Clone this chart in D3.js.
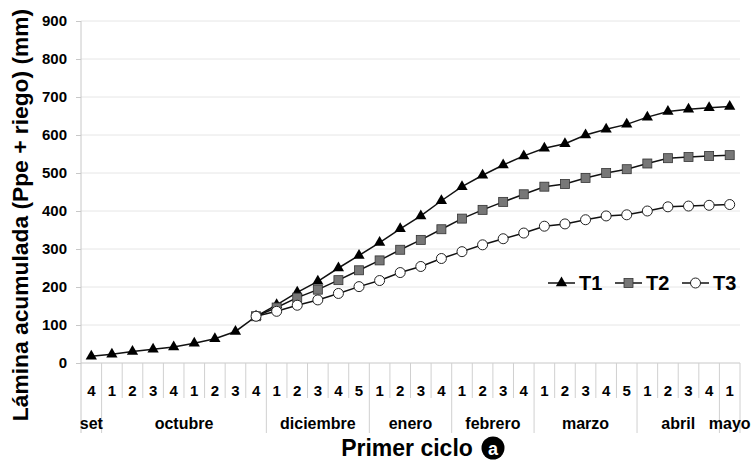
<!DOCTYPE html>
<html>
<head>
<meta charset="utf-8">
<script src="https://cdn.jsdelivr.net/npm/d3@7"></script>
<style>
  html, body { margin: 0; padding: 0; background: #fff; }
  svg text { font-family: "Liberation Sans", Arial, sans-serif; font-weight: bold; fill: #000; }
</style>
</head>
<body>
<svg id="chart" width="754" height="465"></svg>
<script>
const weekLabels = ["4","1","2","3","4","1","2","3","4","1","2","3","4","5","1","2","3","4","1","2","3","4","1","2","3","4","5","1","2","3","4","1"];
const monthNames = ["set","octubre","diciembre","enero","febrero","marzo","abril","mayo"];
const monthSpans = [1, 8, 5, 4, 4, 5, 4, 1];
const yTicks = [0, 100, 200, 300, 400, 500, 600, 700, 800, 900];
const T1 = [18, 23, 30, 36, 42, 52, 64, 83, 123, 153, 186, 215, 250, 283, 317, 353, 387, 427, 464, 494, 521, 545, 565, 577, 600, 615, 628, 647, 662, 668, 672, 675];
const T2 = [null, null, null, null, null, null, null, null, 123, 146, 172, 193, 218, 244, 270, 298, 324, 352, 380, 403, 424, 444, 464, 471, 487, 500, 510, 525, 539, 542, 545, 547];
const T3 = [null, null, null, null, null, null, null, null, 123, 136, 152, 166, 183, 201, 217, 238, 254, 275, 293, 311, 327, 342, 360, 366, 377, 387, 390, 400, 411, 413, 415, 417];
const seriesNames = ["T1", "T2", "T3"];

(function () {
const svg = d3.select("#chart");
const pL = 81, pR = 740, pT = 21, pB = 363;

const x = d3.scaleBand().domain(d3.range(weekLabels.length)).range([pL, pR]).padding(0);
const bw = x.bandwidth();
const cx = i => x(i) + bw / 2;
const y = d3.scaleLinear().domain([0, 900]).range([pB, pT]);

// gridlines
svg.append("g").selectAll("line").data(yTicks.filter(d => d > 0)).join("line")
  .attr("x1", pL).attr("x2", pR)
  .attr("y1", d => y(d)).attr("y2", d => y(d))
  .attr("stroke", "#e6e6e6").attr("stroke-width", 1);

// y axis
const yAxis = d3.axisLeft(y).tickValues(yTicks).tickSize(5).tickPadding(9);
const gy = svg.append("g").attr("transform", `translate(${pL},0)`).call(yAxis);
gy.select(".domain").remove();
gy.selectAll(".tick line").attr("stroke", "#c8c8c8");
gy.selectAll(".tick text").attr("font-size", 15).style("font-family", "'Liberation Sans', Arial, sans-serif").style("font-weight", "bold").attr("fill", "#000");
svg.append("line").attr("x1", pL).attr("x2", pL).attr("y1", pT).attr("y2", 433).attr("stroke", "#c8c8c8");

// x axis baseline
svg.append("line").attr("x1", pL).attr("x2", pR).attr("y1", pB).attr("y2", pB).attr("stroke", "#c8c8c8");

// week separators
const boundaries = d3.range(1, weekLabels.length + 1);
const monthBounds = Array.from(d3.cumsum(monthSpans));
svg.append("g").selectAll("line").data(boundaries).join("line")
  .attr("x1", d => pL + d * bw).attr("x2", d => pL + d * bw)
  .attr("y1", pB).attr("y2", d => monthBounds.includes(d) ? 433 : 398)
  .attr("stroke", "#d0d0d0");

// week labels
svg.append("g").selectAll("text").data(weekLabels).join("text")
  .attr("x", (d, i) => cx(i)).attr("y", 396)
  .attr("text-anchor", "middle").attr("font-size", 15).text(d => d);

// month labels
const monthStarts = [0].concat(monthBounds.slice(0, -1));
svg.append("g").selectAll("text").data(monthNames).join("text")
  .attr("x", (d, i) => pL + (monthStarts[i] + monthSpans[i] / 2) * bw)
  .attr("y", 429).attr("text-anchor", "middle").attr("font-size", 16).text(d => d);

// lines
const line = d3.line().defined(d => d != null).x((d, i) => cx(i)).y(d => y(d));
[T1, T2, T3].forEach(s => {
  svg.append("path").datum(s).attr("d", line).attr("fill", "none").attr("stroke", "#111").attr("stroke-width", 1.5);
});

function marker(g, k, px, py) {
  if (k === 0) {
    g.append("path").attr("d", d3.symbol(d3.symbolTriangle, 55)()).attr("transform", `translate(${px},${py})`).attr("fill", "#000");
  } else if (k === 1) {
    g.append("rect").attr("x", px - 4.5).attr("y", py - 4.5).attr("width", 9).attr("height", 9).attr("fill", "#777").attr("stroke", "#333").attr("stroke-width", 0.8);
  } else {
    g.append("circle").attr("cx", px).attr("cy", py).attr("r", 5).attr("fill", "#fff").attr("stroke", "#222").attr("stroke-width", 1);
  }
}
[T1, T2, T3].forEach((s, k) => {
  const g = svg.append("g");
  s.forEach((v, i) => { if (v != null) marker(g, k, cx(i), y(v)); });
});

// legend
const legX = [548, 615, 682];
seriesNames.forEach((n, k) => {
  const g = svg.append("g");
  const ly = 283;
  g.append("line").attr("x1", legX[k]).attr("x2", legX[k] + 27).attr("y1", ly).attr("y2", ly).attr("stroke", "#111").attr("stroke-width", 1.5);
  marker(g, k, legX[k] + 13.5, ly);
  g.append("text").attr("x", legX[k] + 31).attr("y", ly + 7).attr("font-size", 20).text(n);
});

// y title
svg.append("text").attr("transform", `translate(28,215) rotate(-90)`).attr("text-anchor", "middle").attr("font-size", 22.8).text("Lámina acumulada (Ppe + riego) (mm)");

// x title
svg.append("text").attr("x", 407).attr("y", 456).attr("text-anchor", "middle").attr("font-size", 23).text("Primer ciclo");
svg.append("circle").attr("cx", 493).attr("cy", 448).attr("r", 11.5).attr("fill", "#000");
svg.append("text").attr("x", 493).attr("y", 454.5).attr("text-anchor", "middle").attr("font-size", 18).style("fill", "#fff").text("a");
})();
</script>
</body>
</html>
